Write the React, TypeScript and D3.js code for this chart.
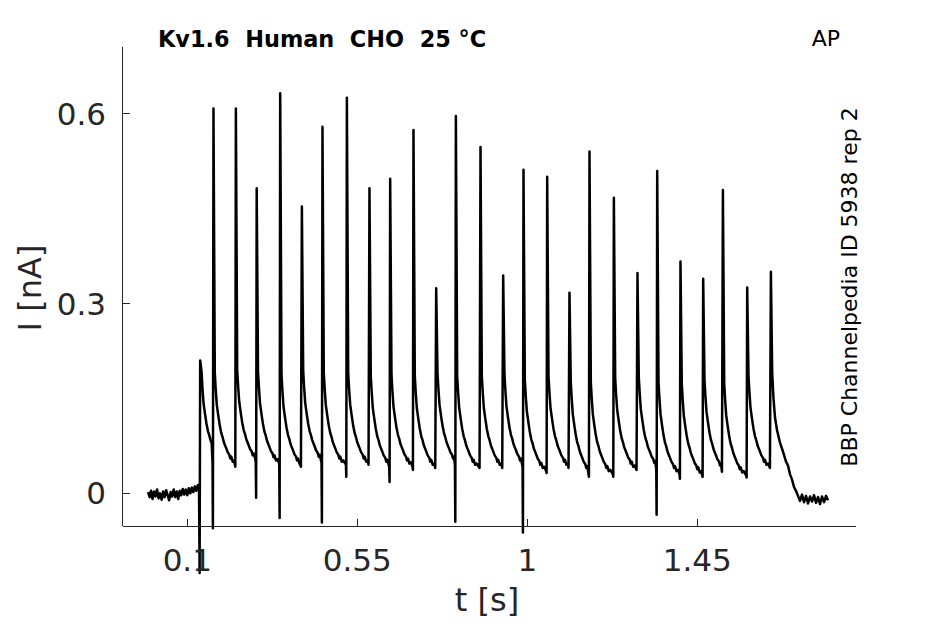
import { useEffect, useRef } from "react";
import * as d3 from "d3";

// spike train: time [s], peak [nA], negative dip [nA], level just before the spike [nA]
const spikeT = [
  0.1336, 0.1688, 0.2281, 0.2832, 0.3454, 0.4028, 0.4573, 0.5219, 0.5817, 0.6365, 0.6982, 0.7583, 0.8104, 0.8756,
  0.9356, 0.9894, 1.0521, 1.1111, 1.1641, 1.2286, 1.2911, 1.3433, 1.4049, 1.465, 1.5172, 1.5815, 1.6442,
];
const spikePeak = [
  0.21, 0.608, 0.608, 0.482, 0.632, 0.453, 0.579, 0.625, 0.482, 0.497, 0.574, 0.324, 0.596, 0.547, 0.344, 0.511, 0.5,
  0.317, 0.54, 0.467, 0.348, 0.509, 0.366, 0.339, 0.479, 0.325, 0.35,
];
const spikeDip = [
  -0.126, -0.055, 0.042, -0.007, -0.039, 0.042, -0.046, 0.026, 0.045, 0.018, 0.037, 0.04, -0.045, 0.04, 0.04, -0.062,
  0.032, 0.04, 0.026, 0.026, 0.037, -0.034, 0.023, 0.026, 0.034, 0.025, 0.04,
];
const spikeTrough = [
  0.01, 0.048, 0.045, 0.05, 0.047, 0.042, 0.048, 0.045, 0.045, 0.04, 0.042, 0.04, 0.045, 0.04, 0.04, 0.042, 0.035,
  0.04, 0.03, 0.03, 0.037, 0.038, 0.03, 0.028, 0.034, 0.028, 0.04,
];

// decay after a spike (time since spike [s], current above the next trough [nA]), read from one cycle
const decayOffset = [
  0.004, 0.0066, 0.0093, 0.0132, 0.0172, 0.0212, 0.0245, 0.0278, 0.031, 0.0344, 0.038, 0.0424, 0.045, 0.0476, 0.0515,
  0.0556,
];
const decayLevel = [
  0.145, 0.118, 0.095, 0.078, 0.062, 0.05, 0.044, 0.036, 0.031, 0.026, 0.02, 0.016, 0.01, 0.013, 0.005, 0.007,
];

// holding current before the train [t, I]
const preBaseline: [number, number][] = [
  [-0.004, 0.002], [0.0005, -0.006], [0.004, 0.004], [0.008, -0.009], [0.012, 0.003], [0.016, -0.005],
  [0.02, 0.006], [0.024, -0.008], [0.028, 0.0], [0.032, -0.01], [0.036, 0.003], [0.04, -0.006],
  [0.044, 0.005], [0.048, -0.003], [0.052, -0.011], [0.056, 0.002], [0.06, -0.005], [0.064, 0.006],
  [0.068, -0.006], [0.072, 0.003], [0.076, -0.009], [0.08, 0.004], [0.084, -0.003], [0.088, 0.007],
  [0.092, -0.002], [0.096, 0.006], [0.1, -0.003], [0.104, 0.008], [0.108, 0.0], [0.112, 0.009],
  [0.116, 0.002], [0.12, 0.011], [0.124, 0.004], [0.128, 0.013], [0.131, 0.01],
];

// relaxation after the last spike [t, I]
const tail: [number, number][] = [
  [1.6482, 0.19], [1.6516, 0.15], [1.6556, 0.12], [1.6609, 0.1], [1.6688, 0.08], [1.6768, 0.066],
  [1.6847, 0.05], [1.69, 0.044], [1.6953, 0.03], [1.7006, 0.022], [1.7059, 0.01], [1.7112, 0.004],
  [1.7165, -0.004], [1.7218, -0.012], [1.7271, -0.002], [1.7324, -0.014], [1.7377, -0.004], [1.743, -0.016],
  [1.7483, -0.005], [1.7536, -0.013], [1.7589, -0.003], [1.7642, -0.015], [1.7695, -0.006], [1.7748, -0.017],
  [1.78, -0.005], [1.7854, -0.014], [1.7907, -0.004], [1.796, -0.011],
];

const xTicks = [0.1, 0.55, 1, 1.45];
const xTickLabels = ["0.1", "0.55", "1", "1.45"];
const yTicks = [0, 0.3, 0.6];
const yTickLabels = ["0", "0.3", "0.6"];

const title = "Kv1.6  Human  CHO  25 °C";
const protocol = "AP";
const source = "BBP Channelpedia ID 5938 rep 2";

function buildTrace(): [number, number][] {
  const pts: [number, number][] = [...preBaseline];
  spikeT.forEach((t, i) => {
    if (i > 0) pts.push([t - 0.002, spikeTrough[i]]);
    if (spikeDip[i] < spikeTrough[i]) pts.push([t - 0.001, spikeDip[i]]);
    pts.push([t + 0.0005, spikePeak[i]]);
    if (i < spikeT.length - 1) {
      const gap = spikeT[i + 1] - t;
      decayOffset.forEach((off, k) => {
        if (off < gap - 0.003) pts.push([t + off, spikeTrough[i + 1] + decayLevel[k]]);
      });
    }
  });
  return pts.concat(tail);
}

export default function App() {
  const svgRef = useRef<SVGSVGElement>(null);

  useEffect(() => {
    if (!svgRef.current) return;
    const svg = d3.select(svgRef.current);
    svg.selectAll("*").remove();

    const left = 122.5;
    const right = 856;
    const top = 47;
    const bottom = 526;
    const axisColor = "#262626";
    const font = "DejaVu Sans, sans-serif";

    const x = d3.scaleLinear().domain([-0.0715, 1.87]).range([left, right]);
    const y = d3.scaleLinear().domain([-0.0516, 0.705]).range([bottom, top]);

    const line = d3
      .line<[number, number]>()
      .x((d) => x(d[0]))
      .y((d) => y(d[1]));

    svg
      .append("path")
      .attr("d", line(buildTrace()) || "")
      .attr("fill", "none")
      .attr("stroke", "#000")
      .attr("stroke-width", 2.5)
      .attr("stroke-linejoin", "round");

    // axes, inward ticks, no box
    const g = svg.append("g").attr("stroke", axisColor).attr("stroke-width", 1).attr("shape-rendering", "crispEdges");
    g.append("line").attr("x1", left).attr("x2", left).attr("y1", top).attr("y2", bottom);
    g.append("line").attr("x1", left).attr("x2", right).attr("y1", bottom).attr("y2", bottom);
    xTicks.forEach((t) => {
      g.append("line").attr("x1", x(t)).attr("x2", x(t)).attr("y1", bottom).attr("y2", bottom - 7);
    });
    yTicks.forEach((v) => {
      g.append("line").attr("x1", left).attr("x2", left + 7).attr("y1", y(v)).attr("y2", y(v));
    });

    svg
      .selectAll(".xt")
      .data(xTicks)
      .enter()
      .append("text")
      .attr("x", (d) => x(d))
      .attr("y", 571)
      .attr("text-anchor", "middle")
      .attr("fill", axisColor)
      .attr("font-family", font)
      .attr("font-size", 31)
      .text((_, i) => xTickLabels[i]);

    svg
      .selectAll(".yt")
      .data(yTicks)
      .enter()
      .append("text")
      .attr("x", 106)
      .attr("y", (d) => y(d))
      .attr("dy", "0.36em")
      .attr("text-anchor", "end")
      .attr("fill", axisColor)
      .attr("font-family", font)
      .attr("font-size", 31)
      .text((_, i) => yTickLabels[i]);

    svg
      .append("text")
      .attr("x", 487)
      .attr("y", 611)
      .attr("text-anchor", "middle")
      .attr("fill", axisColor)
      .attr("font-family", font)
      .attr("font-size", 32)
      .text("t [s]");

    svg
      .append("text")
      .attr("transform", "translate(41,288) rotate(-90)")
      .attr("text-anchor", "middle")
      .attr("fill", axisColor)
      .attr("font-family", font)
      .attr("font-size", 32)
      .text("I [nA]");

    svg
      .append("text")
      .attr("x", 158)
      .attr("y", 47)
      .attr("fill", "#000")
      .attr("font-family", font)
      .attr("font-weight", "bold")
      .attr("font-size", 22.4)
      .attr("xml:space", "preserve")
      .style("white-space", "pre")
      .text(title);

    svg
      .append("text")
      .attr("x", 840)
      .attr("y", 46)
      .attr("text-anchor", "end")
      .attr("fill", "#000")
      .attr("font-family", font)
      .attr("font-size", 22)
      .text(protocol);

    svg
      .append("text")
      .attr("transform", "translate(857,287) rotate(-90)")
      .attr("text-anchor", "middle")
      .attr("fill", "#000")
      .attr("font-family", font)
      .attr("font-size", 22)
      .text(source);
  }, []);

  return (
    <svg
      ref={svgRef}
      width={945}
      height={624}
      style={{ position: "absolute", left: 0, top: 0, background: "#fff" }}
    />
  );
}
